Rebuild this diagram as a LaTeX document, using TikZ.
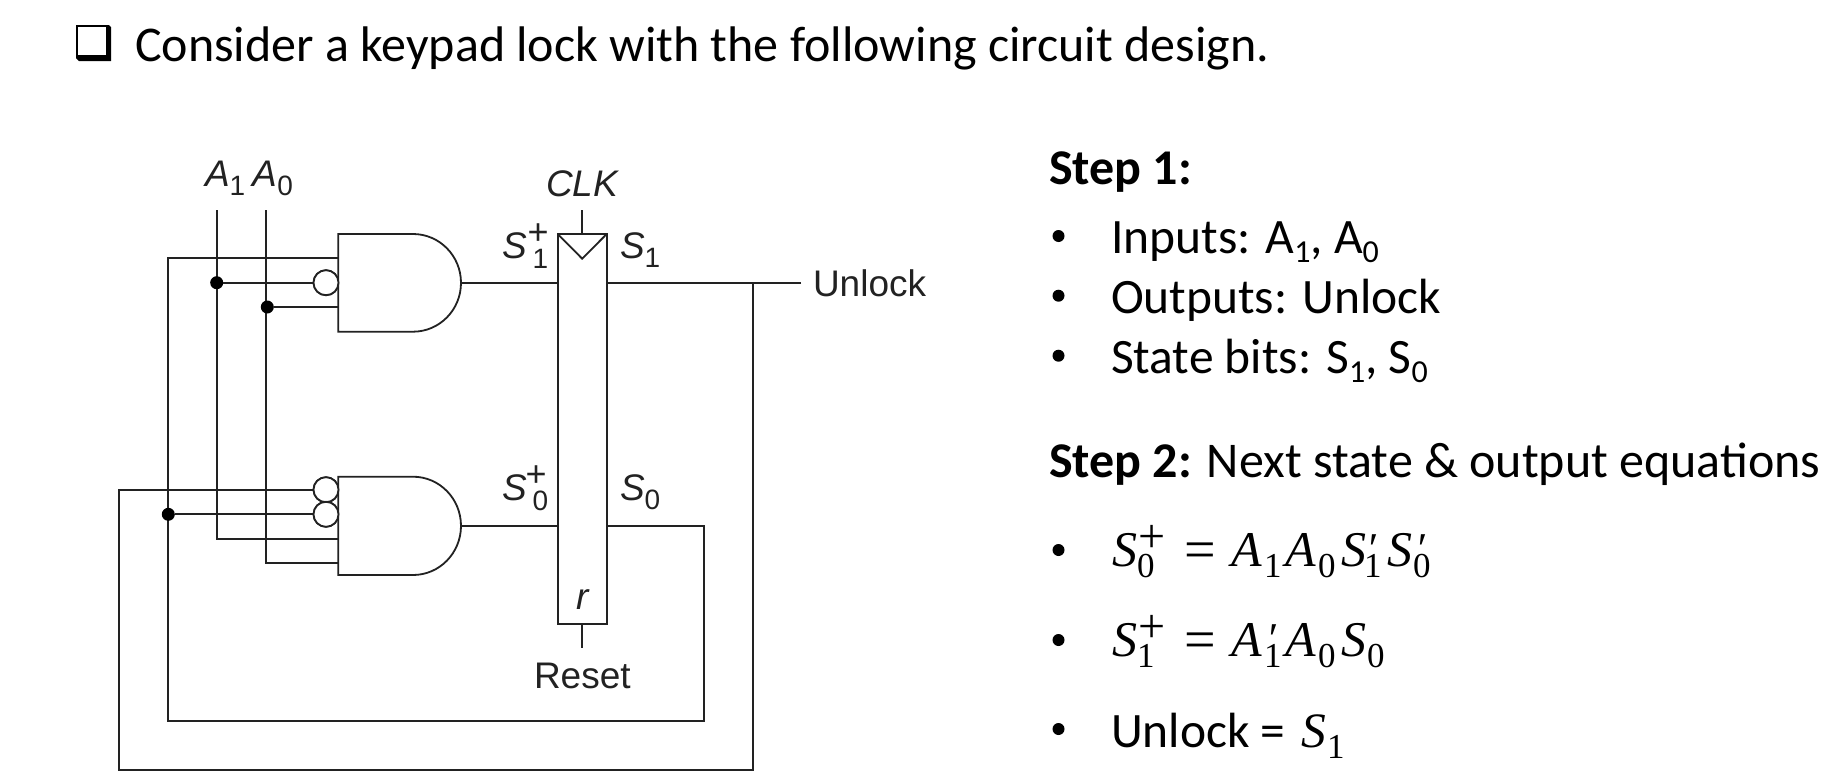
\documentclass[tikz,border=0pt]{standalone}
\usepackage{fontspec}
\setmainfont{Carlito}
\newfontfamily\dgfont{Liberation Sans}
\newfontfamily\eqfont{Liberation Serif}
\definecolor{ink}{HTML}{222222}
% diagram label pieces
\newcommand{\dgsub}[1]{\raisebox{-9pt}{\fontsize{28}{28}\selectfont\upshape #1}}
\newcommand{\dgstack}[3]{\rlap{\raisebox{14pt}{\hspace{#3}\fontsize{36}{36}\selectfont\upshape #1}}\raisebox{-10pt}{\hspace{6pt}\fontsize{28}{28}\selectfont\upshape #2}}
% text subscripts
\newcommand{\txsub}[1]{\raisebox{-9pt}{\fontsize{32}{32}\selectfont #1}}
% equation pieces: fixed-width cells
\newcommand{\pc}[2]{\makebox[#1pt][l]{#2}}
\newcommand{\qv}[2]{\pc{#1}{\itshape #2}}
\newcommand{\qdig}[1]{\raisebox{-11pt}{\fontsize{35}{35}\selectfont #1}}
\newcommand{\qsub}[2]{\pc{#1}{\qdig{#2}}}
\newcommand{\qplus}[2]{\pc{#1}{\rlap{\qdig{#2}}\raisebox{14pt}{\hspace{1pt}\fontsize{48}{48}\selectfont +}}}
\newcommand{\qprime}[2]{\pc{#1}{\rlap{\qdig{#2}}\raisebox{3pt}{\hspace{2pt}\fontsize{44}{44}\selectfont\itshape ′}}}
\newcommand{\qeq}{\pc{47}{\raisebox{-2pt}{\fontsize{56}{56}\selectfont =}}}
\tikzset{
  x=1pt,y=-1pt,
  wire/.style={draw=ink,line width=1.8pt,line cap=butt,line join=miter},
  heavy/.style={draw=ink,line width=2.1pt,line join=miter},
  gatebody/.style={draw=ink,line width=1.8pt,fill=white},
  bubble/.style={circle,draw=ink,line width=1.8pt,fill=white,minimum size=25pt,inner sep=0pt,outer sep=0pt},
  junction/.style={circle,fill=black,minimum size=13pt,inner sep=0pt,outer sep=0pt},
  ff/.style={rectangle,draw=ink,line width=1.8pt,fill=white,minimum width=49pt,minimum height=389.7pt,inner sep=0pt,outer sep=0pt},
  dglabel/.style={anchor=base west,inner sep=0pt,outer sep=0pt,text=ink,font=\dgfont\fontsize{37}{40}\selectfont},
  dgital/.style={dglabel,font=\dgfont\itshape\fontsize{37}{40}\selectfont},
  body/.style={anchor=base west,inner sep=0pt,outer sep=0pt,text=black,font=\fontsize{50}{54}\selectfont},
  item/.style={body,font=\fontsize{49.5}{54}\selectfont},
  eq/.style={anchor=base west,inner sep=0pt,outer sep=0pt,text=black,font=\eqfont\fontsize{50}{54}\selectfont},
  dotmark/.style={circle,fill=black,minimum size=12pt,inner sep=0pt,outer sep=0pt}
}
\begin{document}
\begin{tikzpicture}
\useasboundingbox (0,0) rectangle (1840,782);
\fill[white] (0,0) rectangle (1840,782);

% title
\fill[black] (76,25) -- (109,25) -- (111,27) -- (111,61) -- (79,61) -- (76,58) -- cycle;
\fill[white] (78,27) rectangle (105.5,55);
\node[body] (title) at (135,61) {Consider a keypad lock with the following circuit design.};

% coordinates
\coordinate (a1top) at (216.7,210);
\coordinate (a0top) at (265.7,210);
\coordinate (clktop) at (582.2,210);
\coordinate (resetend) at (582.2,647.7);
\coordinate (unlockend) at (801,282.7);
\coordinate (tap) at (752.7,282.7);
\coordinate (g1in1) at (338.3,258);
\coordinate (g1in3) at (338.3,307);
\coordinate (g2in3) at (338.3,538.7);
\coordinate (g2in4) at (338.3,563.3);
\coordinate (g1out) at (461,282.7);
\coordinate (g2out) at (461,526.3);
\coordinate (fbcorner) at (168,258);
\coordinate (s0turn) at (704,526.3);
\coordinate (s0low) at (704,721);
\coordinate (fblow) at (168,721);
\coordinate (outlow) at (752.7,769.6);
\coordinate (outleft) at (119.3,769.6);

% junctions and bubbles
\node[bubble] (b1) at (326,282.7) {};
\node[bubble] (b2) at (326,489.7) {};
\node[bubble] (b3) at (326,514.3) {};
\node[ff] (reg) at (582.2,428.85) {};

% wires
\draw[wire] (a1top) -- (a1top |- g2in3) -- (g2in3);
\draw[wire] (a0top) -- (a0top |- g2in4) -- (g2in4);
\draw[wire] (g1in1) -- (fbcorner) -- (fblow) -- (s0low) -- (s0turn) -- (g2out -| reg.east);
\draw[heavy] (unlockend) -- (reg.east |- unlockend);
\draw[heavy] (tap) -- (outlow) -- (outleft) -- (outleft |- b2) -- (b2.west);
\draw[wire] (g1out) -- (g1out -| reg.west);
\draw[wire] (g2out) -- (g2out -| reg.west);
\draw[wire] (clktop) -- (reg.north);
\draw[wire] (reg.south) -- (resetend);

% clock triangle
\draw[wire] (reg.north west) -- ([yshift=-24.7pt]reg.north) -- (reg.north east);

% gates
\draw[gatebody] (338.3,234) -- (413,234) arc[start angle=90,end angle=-90,x radius=48pt,y radius=48.85pt] -- (338.3,331.7) -- cycle;
\draw[gatebody] (338.3,476.7) -- (413,476.7) arc[start angle=90,end angle=-90,x radius=48pt,y radius=49.15pt] -- (338.3,575) -- cycle;

% junction dots and inverted inputs
\node[junction] (d1) at (216.7,282.7) {};
\node[junction] (d2) at (267.3,307) {};
\node[junction] (d3) at (168.3,514.3) {};
\draw[wire] (d1) -- (b1.west);
\draw[wire] (d2) -- (g1in3);
\draw[wire] (d3) -- (b3.west);
\node[bubble] at (b1) {};
\node[bubble] at (b2) {};
\node[bubble] at (b3) {};

% diagram labels
\node[dgital] (la1) at (205,186.7) {A\dgsub{1}};
\node[dgital] (la0) at (252.7,186.7) {A\dgsub{0}};
\node[dgital] (lclk) at (546,196) {CLK};
\node[dgital] (ls1p) at (502,258) {S\dgstack{+}{1}{1pt}};
\node[dgital] (ls1) at (620,258) {S\dgsub{1}};
\node[dgital] (ls0p) at (502,500.7) {S\dgstack{+}{0}{-1pt}};
\node[dgital] (ls0) at (620,500.7) {S\dgsub{0}};
\node[dgital] (lr) at (576,609) {r};
\node[dglabel] (lunlock) at (813,296) {Unlock};
\node[dglabel] (lreset) at (534,688.5) {Reset};

% step 1
\node[body,font=\bfseries\fontsize{50}{54}\selectfont] (s1) at (1049,184) {Step 1:};
\node[dotmark] (m1) at (1058.5,236) {};
\node[item] (t1) at (1111,253.5) {Inputs: A\txsub{1}, A\txsub{0}};
\node[dotmark] (m2) at (1058.5,295.7) {};
\node[item] (t2) at (1111,313.5) {Outputs: Unlock};
\node[dotmark] (m3) at (1058.5,355.7) {};
\node[item] (t3) at (1111,373.5) {State bits: S\txsub{1}, S\txsub{0}};

% step 2
\node[body] (s2) at (1049,477) {\textbf{Step 2:} Next state \& output equations};
\node[dotmark] (m4) at (1058.5,550) {};
\node[eq] (e1) at (1112,566) {\qv{25}{S}\qplus{47}{0}\qeq\qv{33}{A}\qsub{21}{1}\qv{33}{A}\qsub{23}{0}\qv{23}{S}\qprime{23}{1}\qv{26}{S}\qprime{20}{0}};
\node[dotmark] (m5) at (1058.5,640) {};
\node[eq] (e2) at (1112,656.7) {\qv{25}{S}\qplus{47}{1}\qeq\qv{33}{A}\qprime{21}{1}\qv{33}{A}\qsub{23}{0}\qv{26}{S}\qsub{20}{0}};
\node[dotmark] (m6) at (1058.5,729) {};
\node[item] (t6) at (1111,747.5) {\pc{190}{Unlock =}\eqfont\qv{26}{S}\qsub{18}{1}};
\end{tikzpicture}
\end{document}
